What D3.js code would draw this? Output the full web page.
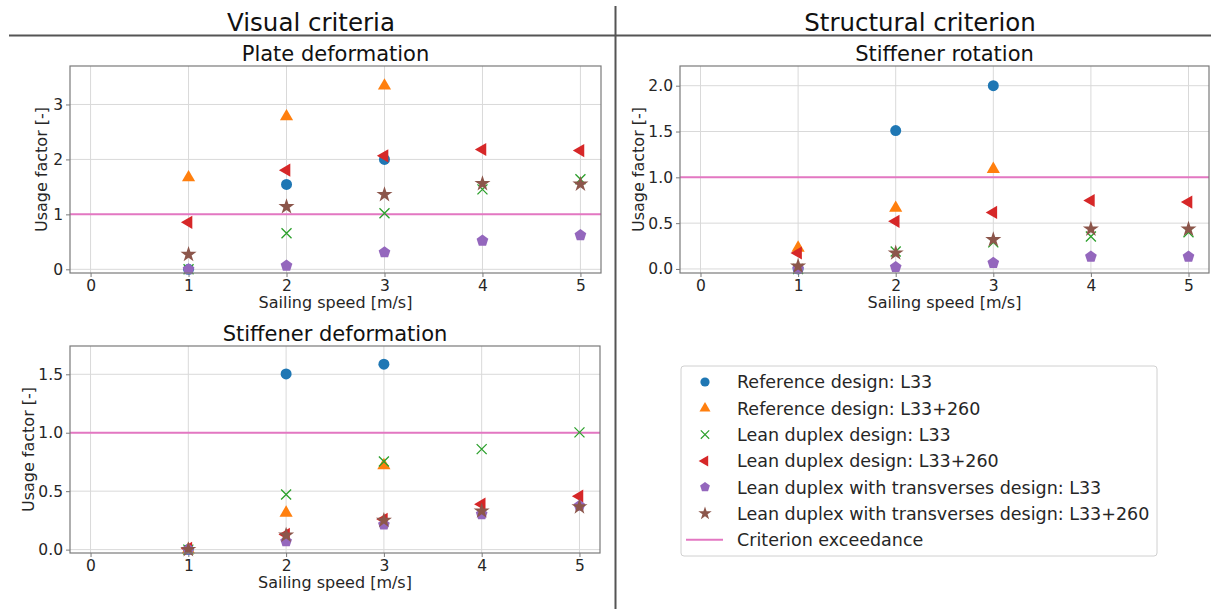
<!DOCTYPE html>
<html>
<head>
<meta charset="utf-8">
<script src="https://cdn.jsdelivr.net/npm/d3@7"></script>
<style>
  html, body { margin: 0; padding: 0; background: #fff; }
  svg { display: block; font-family: "DejaVu Sans", sans-serif; }
</style>
</head>
<body>
<svg id="chart" width="1211" height="609"></svg>
<script>
// Sailing speeds (m/s) at which every design was evaluated
const speeds = [1, 2, 3, 4, 5];
const xTicks = [0, 1, 2, 3, 4, 5];

// Design variants, in drawing order
const seriesNames = [
  "Reference design: L33",
  "Reference design: L33+260",
  "Lean duplex design: L33",
  "Lean duplex design: L33+260",
  "Lean duplex with transverses design: L33",
  "Lean duplex with transverses design: L33+260"
];
const seriesColors = ["#1f77b4", "#ff7f0e", "#2ca02c", "#d62728", "#9467bd", "#8c564b"];
const criterionLabel = "Criterion exceedance";
const criterionValue = 1;

// Usage factors per design (rows follow seriesNames, columns follow speeds)
const plateDeformation = [
  [0.0, 1.545, 2.0, null, null],
  [1.67, 2.78, 3.34, null, null],
  [0.0, 0.655, 1.02, 1.455, 1.64],
  [0.855, 1.805, 2.065, 2.18, 2.16],
  [0.0, 0.065, 0.31, 0.52, 0.62],
  [0.27, 1.14, 1.36, 1.56, 1.55]
];
const stiffenerRotation = [
  [0.0, 1.51, 2.0, null, null],
  [0.23, 0.665, 1.09, null, null],
  [0.0, 0.19, 0.29, 0.355, 0.40],
  [0.174, 0.52, 0.617, 0.747, 0.73],
  [0.0, 0.02, 0.065, 0.134, 0.134],
  [0.03, 0.174, 0.32, 0.435, 0.435]
];
const stiffenerDeformation = [
  [0.0, 1.503, 1.586, null, null],
  [0.0, 0.314, 0.72, null, null],
  [0.0, 0.471, 0.754, 0.86, 1.003],
  [0.01, 0.13, 0.26, 0.389, 0.457],
  [0.0, 0.071, 0.214, 0.303, 0.374],
  [0.0, 0.123, 0.25, 0.33, 0.366]
];

const plateTicks = [0, 1, 2, 3];
const rotationTicks = [0, 0.5, 1.0, 1.5, 2.0];
const stiffDefTicks = [0, 0.5, 1.0, 1.5];

// Custom marker shapes
const symbolPentagon = {
  draw(ctx, size) {
    const r = Math.sqrt(size / 2.378);
    for (let i = 0; i < 5; i++) {
      const a = -Math.PI / 2 + i * 2 * Math.PI / 5;
      const x = r * Math.cos(a), y = r * Math.sin(a);
      if (i === 0) ctx.moveTo(x, y); else ctx.lineTo(x, y);
    }
    ctx.closePath();
  }
};
const symbolCross = {
  draw(ctx, size) {
    const r = Math.sqrt(size) / 2;
    ctx.moveTo(-r, -r); ctx.lineTo(r, r);
    ctx.moveTo(-r, r); ctx.lineTo(r, -r);
  }
};
const markers = [
  { type: d3.symbolCircle, size: 95, rotate: 0, fill: true },
  { type: d3.symbolTriangle, size: 75, rotate: 0, fill: true },
  { type: symbolCross, size: 100, rotate: 0, fill: false },
  { type: d3.symbolTriangle, size: 75, rotate: -90, fill: true },
  { type: symbolPentagon, size: 90, rotate: 0, fill: true },
  { type: d3.symbolStar, size: 80, rotate: 0, fill: true }
];

const svg = d3.select("#chart");
const textColor = "#262626";
const frameColor = "#7a7a7a";

// Section headers and dividers
svg.append("line").attr("x1", 9).attr("x2", 1211).attr("y1", 35.5).attr("y2", 35.5)
  .attr("stroke", "#555").attr("stroke-width", 2);
svg.append("line").attr("x1", 615.5).attr("x2", 615.5).attr("y1", 6).attr("y2", 609)
  .attr("stroke", "#555").attr("stroke-width", 2);
svg.append("text").attr("x", 311).attr("y", 31).attr("text-anchor", "middle")
  .attr("font-size", 24.5).attr("fill", "#111").text("Visual criteria");
svg.append("text").attr("x", 920).attr("y", 31).attr("text-anchor", "middle")
  .attr("font-size", 24.5).attr("fill", "#111").text("Structural criterion");

function drawPanel(box, title, data, yDomain, yTicks, yFmt, labelOffset) {
  const x = d3.scaleLinear().domain([-0.21, 5.21]).range([box.left, box.right]);
  const y = d3.scaleLinear().domain(yDomain).range([box.bottom, box.top]);
  const g = svg.append("g");

  // grid
  g.append("g").selectAll("line").data(xTicks).join("line")
    .attr("x1", d => x(d)).attr("x2", d => x(d))
    .attr("y1", box.top).attr("y2", box.bottom)
    .attr("stroke", "#d9d9d9").attr("stroke-width", 1);
  g.append("g").selectAll("line").data(yTicks).join("line")
    .attr("x1", box.left).attr("x2", box.right)
    .attr("y1", d => y(d)).attr("y2", d => y(d))
    .attr("stroke", "#d9d9d9").attr("stroke-width", 1);

  // axes
  const xAxis = g.append("g").attr("transform", `translate(0,${box.bottom})`)
    .call(d3.axisBottom(x).tickValues(xTicks).tickFormat(d3.format("d")).tickSize(4).tickPadding(3));
  const yAxis = g.append("g").attr("transform", `translate(${box.left},0)`)
    .call(d3.axisLeft(y).tickValues(yTicks).tickFormat(d3.format(yFmt)).tickSize(4).tickPadding(3));
  [xAxis, yAxis].forEach(a => {
    a.select(".domain").remove();
    a.selectAll(".tick line").attr("stroke", frameColor);
    a.selectAll(".tick text").attr("font-size", 15.5).attr("fill", textColor)
      .attr("font-family", "DejaVu Sans, sans-serif");
  });

  // criterion line
  g.append("line").attr("x1", box.left).attr("x2", box.right)
    .attr("y1", y(criterionValue)).attr("y2", y(criterionValue))
    .attr("stroke", "#e377c2").attr("stroke-width", 2);

  // markers
  data.forEach((row, si) => {
    const m = markers[si];
    const sym = d3.symbol().type(m.type).size(m.size);
    const pts = speeds.map((s, i) => ({ s, v: row[i] })).filter(d => d.v !== null);
    g.append("g").selectAll("path").data(pts).join("path")
      .attr("d", sym)
      .attr("transform", d => `translate(${x(d.s)},${y(d.v)}) rotate(${m.rotate})`)
      .attr("fill", m.fill ? seriesColors[si] : "none")
      .attr("stroke", m.fill ? "none" : seriesColors[si])
      .attr("stroke-width", m.fill ? 0 : 1.3);
  });

  // frame
  g.append("rect").attr("x", box.left).attr("y", box.top)
    .attr("width", box.right - box.left).attr("height", box.bottom - box.top)
    .attr("fill", "none").attr("stroke", frameColor).attr("stroke-width", 1.2);

  // labels
  const cx = (box.left + box.right) / 2;
  g.append("text").attr("x", cx).attr("y", box.top - 5).attr("text-anchor", "middle")
    .attr("font-size", 21).attr("fill", "#111").text(title);
  g.append("text").attr("x", cx).attr("y", box.bottom + 35).attr("text-anchor", "middle")
    .attr("font-size", 16).attr("fill", textColor).text("Sailing speed [m/s]");
  const ly = (box.top + box.bottom) / 2;
  g.append("text").attr("transform", `translate(${box.left - labelOffset},${ly}) rotate(-90)`)
    .attr("text-anchor", "middle").attr("font-size", 16).attr("fill", textColor)
    .text("Usage factor [-]");
}

drawPanel({ left: 70, right: 601, top: 66, bottom: 273 }, "Plate deformation",
  plateDeformation, [-0.067, 3.70], plateTicks, "d", 23);
drawPanel({ left: 680, right: 1209, top: 66, bottom: 273 }, "Stiffener rotation",
  stiffenerRotation, [-0.044, 2.215], rotationTicks, ".1f", 36);
drawPanel({ left: 70, right: 600, top: 346, bottom: 553 }, "Stiffener deformation",
  stiffenerDeformation, [-0.029, 1.742], stiffDefTicks, ".1f", 36);

// legend
const legend = svg.append("g");
legend.append("rect").attr("x", 681).attr("y", 366).attr("width", 476).attr("height", 190)
  .attr("rx", 3).attr("fill", "#fff").attr("stroke", "#d0d0d0").attr("stroke-width", 1);
const rowY = i => 382 + i * 26.3;
seriesNames.forEach((name, i) => {
  const m = markers[i];
  const sym = d3.symbol().type(m.type).size(m.size * 0.7);
  legend.append("path").attr("d", sym)
    .attr("transform", `translate(705,${rowY(i)}) rotate(${m.rotate})`)
    .attr("fill", m.fill ? seriesColors[i] : "none")
    .attr("stroke", m.fill ? "none" : seriesColors[i])
    .attr("stroke-width", m.fill ? 0 : 1.2);
  legend.append("text").attr("x", 737).attr("y", rowY(i)).attr("dy", "0.36em")
    .attr("font-size", 17.5).attr("fill", textColor).text(name);
});
legend.append("line").attr("x1", 686).attr("x2", 723)
  .attr("y1", rowY(6)).attr("y2", rowY(6)).attr("stroke", "#e377c2").attr("stroke-width", 2);
legend.append("text").attr("x", 737).attr("y", rowY(6)).attr("dy", "0.36em")
  .attr("font-size", 17.5).attr("fill", textColor).text(criterionLabel);
</script>
</body>
</html>
